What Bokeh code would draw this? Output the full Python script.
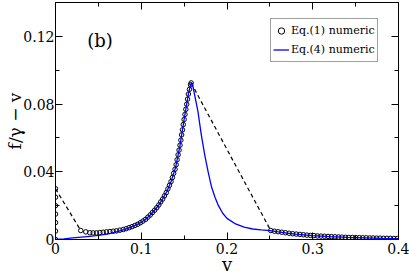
from bokeh.plotting import figure
from bokeh.models import (Range1d, FixedTicker, CustomJSTickFormatter, LinearAxis,
                          Legend, LegendItem, Label)
from bokeh.embed import file_html
from bokeh.resources import INLINE

FONT = "DejaVu Serif"

# ---------------- data ----------------
# Eq.(1) numeric: stuck branch at v = 0
stuck_v = [0, 0, 0, 0, 0, 0, 0]
stuck_y = [0.0, 0.005, 0.010, 0.015, 0.020, 0.025, 0.030]

# Eq.(1) numeric: rising branch after the jump
rise_v = [0.0295, 0.0353, 0.0400, 0.0439, 0.0478, 0.0517, 0.0556, 0.0594, 0.0634, 0.0673,
          0.0711, 0.0751, 0.0790, 0.0825, 0.0859, 0.0893, 0.0926, 0.0959, 0.0990, 0.1020,
          0.1050, 0.1077, 0.1105, 0.1130, 0.1156, 0.1181, 0.1205, 0.1227, 0.1250, 0.1271,
          0.1292, 0.1311, 0.1329, 0.1347, 0.1363, 0.1378, 0.1394, 0.1407, 0.1418, 0.1430,
          0.1441, 0.1452, 0.1462, 0.1471, 0.1481, 0.1490, 0.1500, 0.1510, 0.1520, 0.1530,
          0.1540, 0.1550, 0.1562, 0.1575, 0.1582]
rise_y = [0.0053, 0.0045, 0.0040, 0.0039, 0.0039, 0.0041, 0.0043, 0.0045, 0.0047, 0.0049,
          0.0051, 0.0055, 0.0059, 0.0064, 0.0070, 0.0076, 0.0083, 0.0090, 0.0099, 0.0109,
          0.0119, 0.0132, 0.0145, 0.0159, 0.0173, 0.0188, 0.0204, 0.0222, 0.0239, 0.0258,
          0.0277, 0.0299, 0.0320, 0.0342, 0.0366, 0.0391, 0.0415, 0.0442, 0.0471, 0.0500,
          0.0528, 0.0557, 0.0587, 0.0618, 0.0648, 0.0679, 0.0709, 0.0739, 0.0769, 0.0799,
          0.0829, 0.0859, 0.0887, 0.0914, 0.0925]

# Eq.(1) numeric: branch after the downward jump
fall_v = [0.2510, 0.2553, 0.2596, 0.2639, 0.2682, 0.2724, 0.2766, 0.2808, 0.2850, 0.2891,
          0.2932, 0.2973, 0.3014, 0.3055, 0.3096, 0.3137, 0.3178, 0.3218, 0.3259, 0.3300,
          0.3340, 0.3381, 0.3421, 0.3462, 0.3502, 0.3543, 0.3583, 0.3623, 0.3664, 0.3704,
          0.3744, 0.3785, 0.3825, 0.3865, 0.3905, 0.3946, 0.3986]
fall_y = [0.0053, 0.0049, 0.0046, 0.0043, 0.0040, 0.0037, 0.0034, 0.0032, 0.0030, 0.0028,
          0.0026, 0.0024, 0.0023, 0.0021, 0.0020, 0.0019, 0.0018, 0.0017, 0.0016, 0.0015,
          0.0014, 0.0013, 0.0012, 0.0012, 0.0011, 0.0011, 0.0010, 0.0010, 0.0009, 0.0009,
          0.0008, 0.0008, 0.0007, 0.0007, 0.0007, 0.0006, 0.0006]

# dashed jumps (hysteresis)
jump_up_v = [0.0, 0.0295]
jump_up_y = [0.030, 0.0053]
jump_down_v = [0.1582, 0.2510]
jump_down_y = [0.0925, 0.0053]

# Eq.(4) numeric
eq4_v = [0, 0.01, 0.02, 0.03, 0.04, 0.05, 0.06, 0.07, 0.08, 0.085, 0.09, 0.095, 0.10, 0.105,
         0.11, 0.115, 0.12, 0.125, 0.13, 0.135, 0.14, 0.145, 0.15, 0.153, 0.155, 0.157,
         0.1585, 0.160, 0.162, 0.166, 0.170, 0.174, 0.178, 0.182, 0.186, 0.190, 0.195,
         0.200, 0.21, 0.22, 0.23, 0.24, 0.25, 0.26, 0.27, 0.28, 0.29, 0.30, 0.32, 0.34,
         0.36, 0.38, 0.40]
eq4_y = [0, 0.0004, 0.0009, 0.0014, 0.0019, 0.0024, 0.0032, 0.0043, 0.0058, 0.0067, 0.0077,
         0.0088, 0.0102, 0.0120, 0.0142, 0.0170, 0.0200, 0.0240, 0.0285, 0.0345, 0.0425,
         0.055, 0.071, 0.080, 0.086, 0.0905, 0.0925, 0.0910, 0.086, 0.076, 0.062, 0.050,
         0.040, 0.031, 0.025, 0.020, 0.0155, 0.0125, 0.0092, 0.0073, 0.0062, 0.0057,
         0.0053, 0.0045, 0.0038, 0.0032, 0.0027, 0.0023, 0.0017, 0.0013, 0.0010, 0.0007,
         0.0005]

x_ticks = [0, 0.1, 0.2, 0.3, 0.4]
x_minor = [0.05, 0.15, 0.25, 0.35]
y_ticks = [0, 0.04, 0.08, 0.12]
y_minor = [0.02, 0.06, 0.10]

legend_labels = ["Eq.(1) numeric", "Eq.(4) numeric"]
panel_tag = "(b)"
x_title = "v"
y_title = "f/γ − v"

# ---------------- figure ----------------
p = figure(width=409, height=277, output_backend="svg", toolbar_location=None,
           x_range=Range1d(0, 0.4), y_range=Range1d(0, 0.14),
           min_border_left=55, min_border_right=11, min_border_top=2, min_border_bottom=37,
           x_axis_location=None, y_axis_location=None)
p.grid.visible = False
p.outline_line_color = "black"
p.outline_line_width = 1
p.background_fill_color = "white"
p.border_fill_color = "white"


def make_axis(ticks, minor, code, labelled):
    ax = LinearAxis(ticker=FixedTicker(ticks=ticks, minor_ticks=minor),
                    formatter=CustomJSTickFormatter(code=code if labelled else "return '';"))
    ax.major_tick_in = 7
    ax.major_tick_out = 0
    ax.minor_tick_in = 4
    ax.minor_tick_out = 0
    ax.axis_line_color = "black"
    ax.major_tick_line_color = "black"
    ax.minor_tick_line_color = "black"
    ax.major_label_text_font = FONT
    ax.major_label_text_color = "black"
    if labelled:
        ax.major_label_text_font_size = "14px"
    else:
        ax.major_label_text_font_size = "0px"
        ax.major_label_standoff = 0
    return ax


xcode = "return tick == 0 ? '0' : tick.toFixed(1);"
ycode = "return tick == 0 ? '0' : tick.toFixed(2);"

xb = make_axis(x_ticks, x_minor, xcode, True)
xb.major_label_standoff = 3
xb.axis_label = x_title
xb.axis_label_text_font = FONT
xb.axis_label_text_font_size = "18px"
xb.axis_label_text_font_style = "normal"
xb.axis_label_text_color = "black"
xb.axis_label_standoff = -3
p.add_layout(xb, "below")

yl = make_axis(y_ticks, y_minor, ycode, True)
yl.major_label_standoff = 1
yl.axis_label = y_title
yl.axis_label_text_font = FONT
yl.axis_label_text_font_size = "17px"
yl.axis_label_text_font_style = "normal"
yl.axis_label_text_color = "black"
yl.axis_label_standoff = -5
p.add_layout(yl, "left")

p.add_layout(make_axis(x_ticks, x_minor, xcode, False), "above")
p.add_layout(make_axis(y_ticks, y_minor, ycode, False), "right")

# dashed jump lines
p.line(jump_up_v, jump_up_y, line_color="black", line_width=1.2, line_dash="4 3")
p.line(jump_down_v, jump_down_y, line_color="black", line_width=1.2, line_dash="4 3")

# Eq.(1) circles
circ_v = stuck_v + rise_v + fall_v
circ_y = stuck_y + rise_y + fall_y
r_circ = p.scatter(circ_v, circ_y, marker="circle", size=4.5, fill_color=None,
                   line_color="black", line_width=1)

# Eq.(4) line
r_blue = p.line(eq4_v, eq4_y, line_color="#0000ff", line_width=1.3)

legend = Legend(items=[LegendItem(label=legend_labels[0], renderers=[r_circ]),
                       LegendItem(label=legend_labels[1], renderers=[r_blue])],
                location=(215, 177))
legend.label_text_font = FONT
legend.label_text_font_size = "11px"
legend.label_text_color = "black"
legend.border_line_color = "#444444"
legend.border_line_width = 1
legend.background_fill_color = "white"
legend.background_fill_alpha = 1
legend.padding = 2
legend.spacing = 0
legend.margin = 0
legend.glyph_width = 16
legend.glyph_height = 19
legend.label_height = 19
legend.label_standoff = 2
p.add_layout(legend)

p.add_layout(Label(x=0.037, y=0.1176, text=panel_tag, text_font=FONT, text_font_size="18px",
                   text_baseline="middle", text_align="left", text_color="black"))

open("out.html", "w").write(file_html(p, INLINE))
